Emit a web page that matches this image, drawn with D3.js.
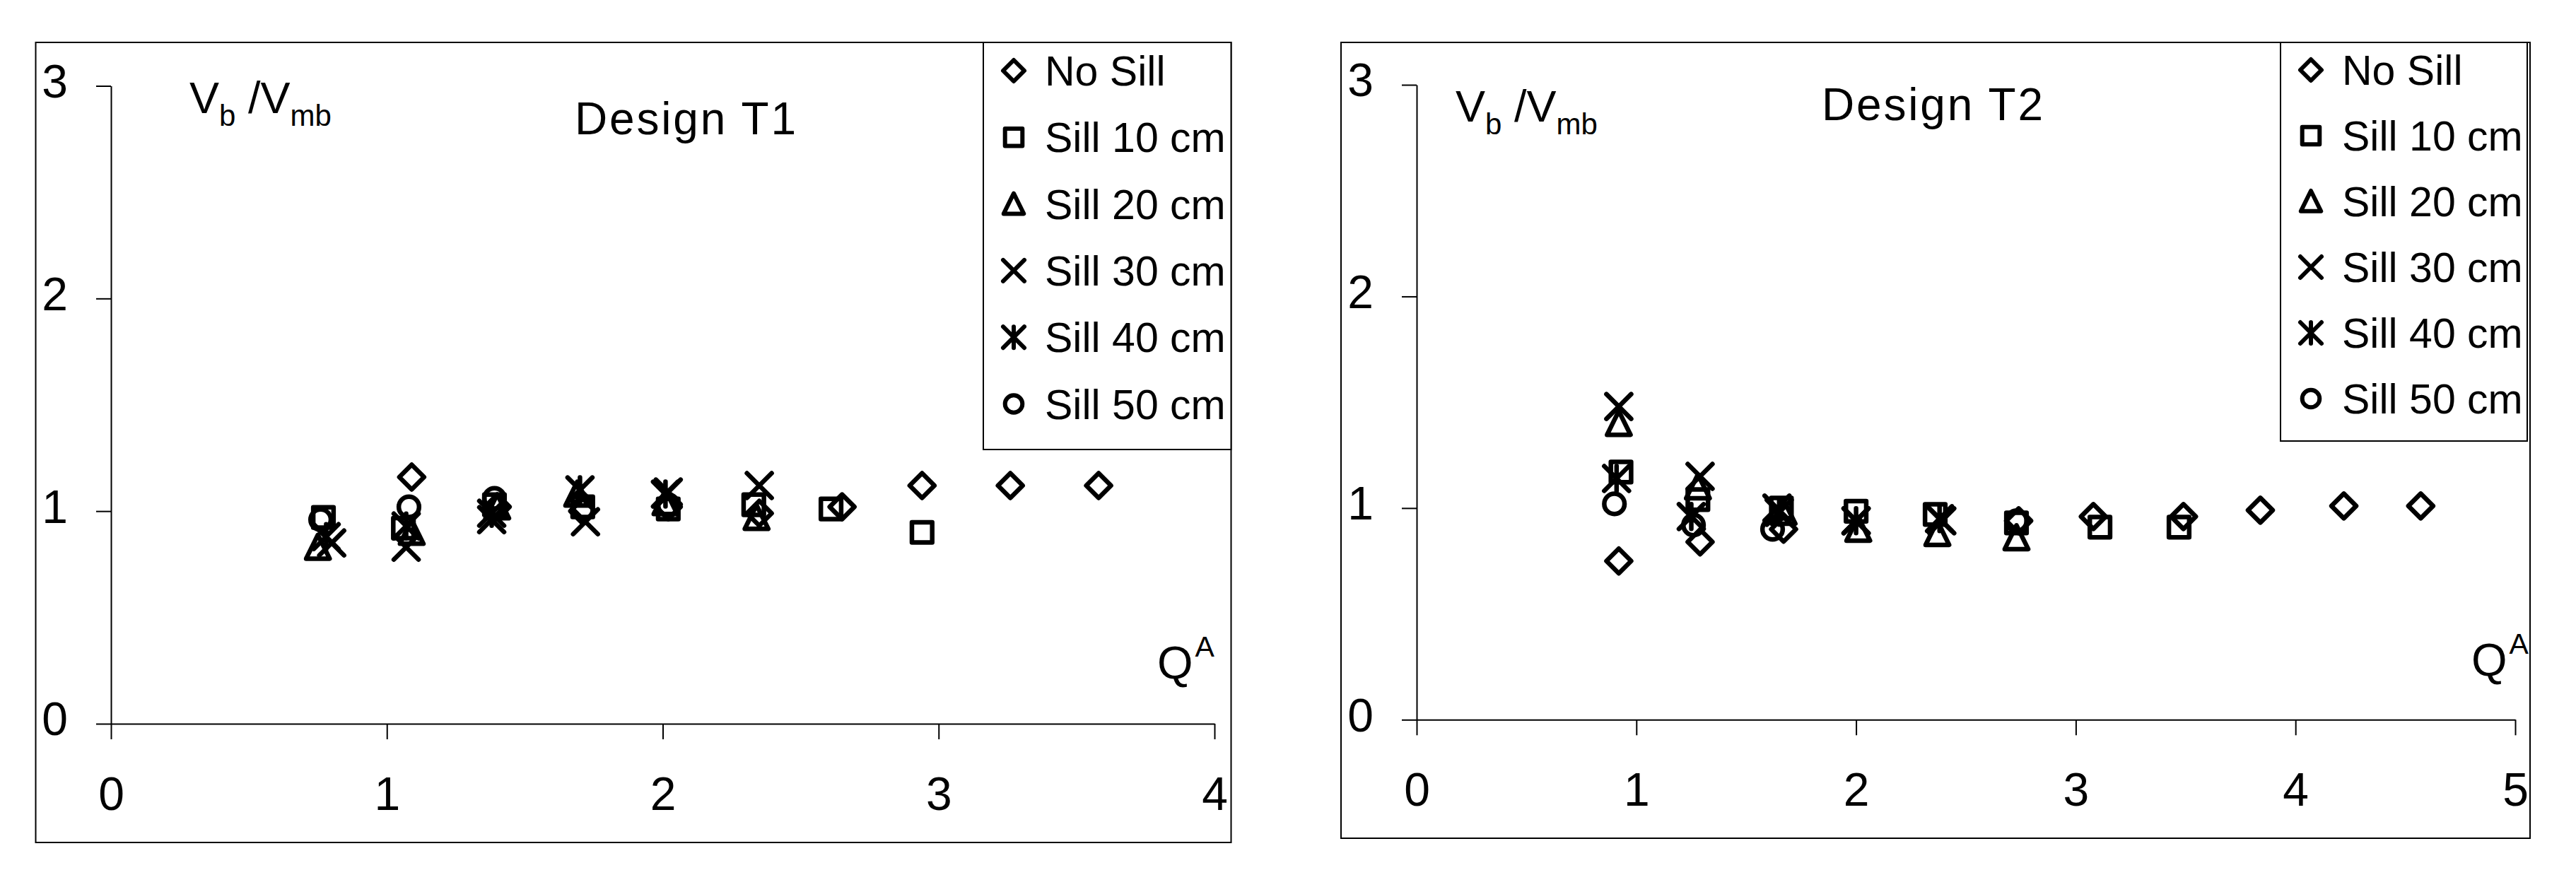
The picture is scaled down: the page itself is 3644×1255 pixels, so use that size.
<!DOCTYPE html>
<html>
<head>
<meta charset="utf-8">
<script src="https://cdn.jsdelivr.net/npm/d3@7"></script>
<style>
  body { margin: 0; background: #fff; }
  svg { display: block; font-family: "Liberation Sans", Arial, sans-serif; }
</style>
</head>
<body>
<svg id="chart" width="3644" height="1255"></svg>
<script>
// Legend entries
var seriesNames = ['No Sill', 'Sill 10 cm', 'Sill 20 cm', 'Sill 30 cm', 'Sill 40 cm', 'Sill 50 cm'];

// Tick labels
var yTicks = [0, 1, 2, 3];
var xTicksT1 = [0, 1, 2, 3, 4];
var xTicksT2 = [0, 1, 2, 3, 4, 5];

// Design T1 points : [Q^A, Vb/Vmb]
var t1NoSill = [[1.09, 1.16], [1.40, 1.02], [1.71, 1.00], [2.02, 1.02], [2.35, 0.99], [2.65, 1.02], [2.94, 1.12], [3.26, 1.12], [3.58, 1.12]];
var t1Sill10 = [[0.77, 0.97], [1.06, 0.92], [1.39, 1.03], [1.71, 1.02], [2.02, 1.01], [2.33, 1.03], [2.61, 1.01], [2.94, 0.90]];
var t1Sill20 = [[0.75, 0.83], [1.09, 0.90], [1.40, 1.02], [1.69, 1.08], [2.01, 1.04], [2.34, 0.97]];
var t1Sill30 = [[0.80, 0.85], [1.07, 0.83], [1.38, 0.96], [1.72, 0.95], [2.02, 1.09], [2.35, 1.12]];
var t1Sill40 = [[0.78, 0.88], [1.07, 0.93], [1.38, 0.99], [1.70, 1.10], [2.01, 1.08]];
var t1Sill50 = [[0.76, 0.96], [1.08, 1.02], [1.39, 1.06], [1.71, 1.01], [2.02, 1.03]];

// Design T2 points : [Q^A, Vb/Vmb]
var t2NoSill = [[0.92, 0.75], [1.29, 0.84], [1.67, 0.90], [2.74, 0.94], [3.08, 0.96], [3.49, 0.96], [3.84, 0.99], [4.22, 1.01], [4.57, 1.01]];
var t2Sill10 = [[0.93, 1.17], [1.28, 1.04], [1.66, 1.00], [2.00, 0.985], [2.36, 0.97], [2.73, 0.93], [3.11, 0.91], [3.47, 0.91]];
var t2Sill20 = [[0.92, 1.40], [1.28, 1.10], [1.67, 0.98], [2.01, 0.90], [2.37, 0.88], [2.73, 0.86]];
var t2Sill30 = [[0.92, 1.48], [1.29, 1.15], [1.64, 1.00], [2.00, 0.94], [2.39, 0.94]];
var t2Sill40 = [[0.91, 1.14], [1.25, 0.96], [1.65, 0.98], [2.00, 0.94], [2.38, 0.95]];
var t2Sill50 = [[0.90, 1.02], [1.26, 0.92], [1.62, 0.90], [2.73, 0.94]];

// Marker shapes, size = half width of the marker
var shapes = [
  { draw: function (c, s) { c.moveTo(0, -s); c.lineTo(s, 0); c.lineTo(0, s); c.lineTo(-s, 0); c.closePath(); } },
  { draw: function (c, s) { var h = s * 0.82; c.rect(-h, -h, 2 * h, 2 * h); } },
  { draw: function (c, s) { var w = s * 0.95; c.moveTo(0, -s); c.lineTo(w, s * 0.92); c.lineTo(-w, s * 0.92); c.closePath(); } },
  { draw: function (c, s) { c.moveTo(-s, -s); c.lineTo(s, s); c.moveTo(-s, s); c.lineTo(s, -s); } },
  { draw: function (c, s) { c.moveTo(-s, -s); c.lineTo(s, s); c.moveTo(-s, s); c.lineTo(s, -s); c.moveTo(0, -s); c.lineTo(0, s); } },
  { draw: function (c, s) { var r = s * 0.82; c.moveTo(r, 0); c.arc(0, 0, r, 0, 2 * Math.PI); } }
];

var svg = d3.select('#chart');

function drawPanel(cfg) {
  var g = svg.append('g');

  // Outer frame
  g.append('rect')
    .attr('x', cfg.frame[0]).attr('y', cfg.frame[1])
    .attr('width', cfg.frame[2] - cfg.frame[0]).attr('height', cfg.frame[3] - cfg.frame[1])
    .attr('fill', 'none').attr('stroke', '#000').attr('stroke-width', 2);

  var x = d3.scaleLinear().domain([0, cfg.xTicks[cfg.xTicks.length - 1]]).range(cfg.xRange);
  var y = d3.scaleLinear().domain([0, 3]).range(cfg.yRange);

  // x axis
  var xAxis = g.append('g')
    .attr('transform', 'translate(0,' + cfg.yRange[0] + ')')
    .call(d3.axisBottom(x).tickValues(cfg.xTicks).tickFormat(d3.format('d'))
      .tickSize(22).tickSizeOuter(0).tickPadding(53));
  // y axis
  var yAxis = g.append('g')
    .attr('transform', 'translate(' + cfg.xRange[0] + ',0)')
    .call(d3.axisLeft(y).tickValues(yTicks).tickFormat(d3.format('d'))
      .tickSize(21).tickSizeOuter(0).tickPadding(40));

  [xAxis, yAxis].forEach(function (a) {
    a.select('.domain').attr('stroke', '#000').attr('stroke-width', 2);
    a.selectAll('.tick line').attr('stroke', '#000').attr('stroke-width', 2);
    a.selectAll('.tick text')
      .attr('fill', '#000')
      .style('font-size', '66px')
      .style('font-family', '"Liberation Sans", Arial, sans-serif');
  });
  yAxis.selectAll('.tick text').attr('dy', '0.24em');

  // Points, one group per series
  cfg.series.forEach(function (pts, i) {
    g.append('g')
      .selectAll('path')
      .data(pts).enter()
      .append('path')
      .attr('transform', function (d) { return 'translate(' + x(d[0]) + ',' + y(d[1]) + ')'; })
      .attr('d', d3.symbol().type(shapes[i]).size(17.5))
      .attr('fill', 'none')
      .attr('stroke', '#000')
      .attr('stroke-width', 6.5)
      .attr('stroke-linejoin', 'round')
      .attr('stroke-linecap', 'round');
  });

  // Title
  g.append('text')
    .attr('x', cfg.title[0]).attr('y', cfg.title[1])
    .attr('textLength', 313).attr('lengthAdjust', 'spacing')
    .style('font-size', '64px')
    .text(cfg.title[2]);

  // Y label  Vb /Vmb
  var yl = g.append('text')
    .attr('x', cfg.yLabel[0]).attr('y', cfg.yLabel[1])
    .style('font-size', '63px');
  yl.append('tspan').text('V');
  yl.append('tspan').attr('dy', 18).style('font-size', '42px').text('b');
  yl.append('tspan').attr('dy', -18).text(' /V');
  yl.append('tspan').attr('dy', 18).style('font-size', '42px').text('mb');

  // X label  Q^A
  var xl = g.append('text')
    .attr('x', cfg.xLabel[0]).attr('y', cfg.xLabel[1])
    .style('font-size', '65px');
  xl.append('tspan').text('Q');
  xl.append('tspan').attr('dy', -31).attr('dx', 3).style('font-size', '41px').text('A');

  // Legend box
  var lg = cfg.legend;
  g.append('rect')
    .attr('x', lg.x).attr('y', cfg.frame[1])
    .attr('width', lg.right - lg.x).attr('height', lg.bottom - cfg.frame[1])
    .attr('fill', '#fff').attr('stroke', '#000').attr('stroke-width', 2);

  var rows = g.append('g').selectAll('g')
    .data(seriesNames).enter()
    .append('g')
    .attr('transform', function (d, i) { return 'translate(0,' + (lg.y0 + i * lg.step) + ')'; });

  rows.append('path')
    .attr('transform', 'translate(' + (lg.x + 43) + ',-21)')
    .attr('d', function (d, i) { return d3.symbol().type(shapes[i]).size(15)(); })
    .attr('fill', 'none')
    .attr('stroke', '#000')
    .attr('stroke-width', 6)
    .attr('stroke-linejoin', 'round')
    .attr('stroke-linecap', 'round');

  rows.append('text')
    .attr('x', lg.x + 87)
    .style('font-size', '59px')
    .text(function (d) { return d; });
}

drawPanel({
  frame: [50.5, 60, 1741.5, 1192],
  xTicks: xTicksT1,
  xRange: [157, 1718],
  yRange: [1024, 121.5],
  series: [t1NoSill, t1Sill10, t1Sill20, t1Sill30, t1Sill40, t1Sill50],
  title: [813, 190, 'Design T1'],
  yLabel: [268, 160],
  xLabel: [1637, 960],
  legend: { x: 1391, right: 1741.5, bottom: 636, y0: 121, step: 94.3 }
});

drawPanel({
  frame: [1897, 60, 3579, 1186],
  xTicks: xTicksT2,
  xRange: [2004, 3558],
  yRange: [1018.3, 120],
  series: [t2NoSill, t2Sill10, t2Sill20, t2Sill30, t2Sill40, t2Sill50],
  title: [2577, 170, 'Design T2'],
  yLabel: [2059, 172],
  xLabel: [3496, 956],
  legend: { x: 3226, right: 3575, bottom: 624, y0: 120, step: 93 }
});
</script>
</body>
</html>
